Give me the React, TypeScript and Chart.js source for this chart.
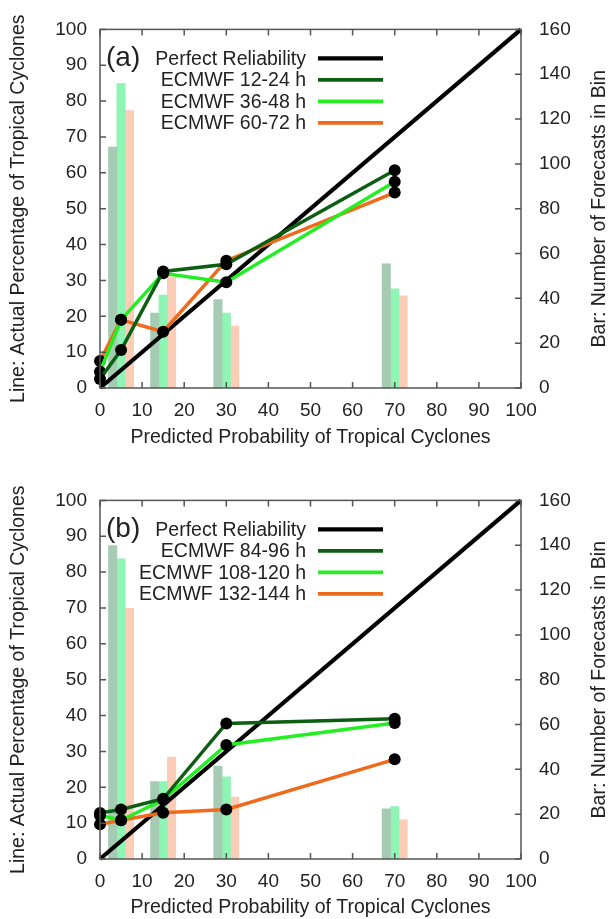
import React, { useEffect, useRef } from "react";
import { Chart, registerables } from "chart.js";

Chart.register(...registerables);

// ---------- data ----------
const probBins = [0, 5, 15, 30, 70];
const barBins = [5, 15, 30, 70];

const reliabilityLabel = "Perfect Reliability";
const reliabilityX = [0, 100];
const reliabilityY = [0, 100];

const panelATag = "(a)";
const panelALabels = ["ECMWF 12-24 h", "ECMWF 36-48 h", "ECMWF 60-72 h"];
const a12_24 = [2.5, 10.6, 32.5, 34.5, 60.7];
const a36_48 = [4.5, 19, 32, 29.5, 57.5];
const a60_72 = [7.5, 19, 15.7, 35.5, 54.5];
const aBars12_24 = [107.5, 33.4, 39.5, 55.4];
const aBars36_48 = [135.8, 41.5, 33.4, 44.3];
const aBars60_72 = [123.8, 49.6, 27.6, 41.1];

const panelBTag = "(b)";
const panelBLabels = ["ECMWF 84-96 h", "ECMWF 108-120 h", "ECMWF 132-144 h"];
const b84_96 = [12.8, 13.8, 16.8, 37.8, 39.1];
const b108_120 = [12.2, 10.8, 16.5, 31.8, 37.9];
const b132_144 = [9.7, 10.8, 12.9, 13.8, 27.8];
const bBars84_96 = [139.8, 34.5, 41.5, 22.4];
const bBars108_120 = [133.9, 34.5, 36.7, 23.4];
const bBars132_144 = [111.8, 45.5, 27.6, 17.5];

const xTitle = "Predicted Probability of Tropical Cyclones";
const yTitle = "Line: Actual Percentage of Tropical Cyclones";
const y1Title = "Bar: Number of Forecasts in Bin";

// ---------- styles ----------
const FONT = "'Liberation Sans', Arial, Helvetica, sans-serif";
const lineColors = ["#0b5e12", "#22ee22", "#f06a1c"];
const barColors = ["#a5ccb2", "#8ff5b5", "#fbcdb6"];
const textColor = "#222";

const decoPlugin = {
  id: "panelDeco",
  afterDraw(chart: any, _args: any, opts: any) {
    const { ctx, chartArea: a, scales } = chart;
    ctx.save();
    // frame
    ctx.strokeStyle = "#555";
    ctx.lineWidth = 1.5;
    ctx.strokeRect(a.left, a.top, a.right - a.left, a.bottom - a.top);
    // inner tick marks
    const tl = 6;
    ctx.beginPath();
    scales.x.ticks.forEach((t: any) => {
      const px = scales.x.getPixelForValue(t.value);
      ctx.moveTo(px, a.bottom);
      ctx.lineTo(px, a.bottom - tl);
      ctx.moveTo(px, a.top);
      ctx.lineTo(px, a.top + tl);
    });
    scales.y.ticks.forEach((t: any) => {
      const py = scales.y.getPixelForValue(t.value);
      ctx.moveTo(a.left, py);
      ctx.lineTo(a.left + tl, py);
    });
    scales.y1.ticks.forEach((t: any) => {
      const py = scales.y1.getPixelForValue(t.value);
      ctx.moveTo(a.right, py);
      ctx.lineTo(a.right - tl, py);
    });
    ctx.stroke();

    // panel tag
    ctx.fillStyle = textColor;
    ctx.textBaseline = "middle";
    ctx.textAlign = "left";
    ctx.font = `28px ${FONT}`;
    ctx.fillText(opts.tag, a.left + 6, a.top + 29);

    // legend
    ctx.font = `19.5px ${FONT}`;
    ctx.textAlign = "right";
    const rows = opts.legend as { label: string; color: string; width: number }[];
    rows.forEach((r, i) => {
      const y = a.top + 29 + i * 21.5;
      ctx.fillStyle = textColor;
      ctx.fillText(r.label, a.left + 206, y + 1);
      ctx.strokeStyle = r.color;
      ctx.lineWidth = r.width;
      ctx.beginPath();
      ctx.moveTo(a.left + 218, y);
      ctx.lineTo(a.left + 283, y);
      ctx.stroke();
    });

    // right axis title (reads bottom-to-top)
    ctx.save();
    ctx.translate(600, (a.top + a.bottom) / 2);
    ctx.rotate(-Math.PI / 2);
    ctx.textAlign = "center";
    ctx.textBaseline = "middle";
    ctx.fillStyle = textColor;
    ctx.font = `19.5px ${FONT}`;
    ctx.fillText(opts.rightTitle, 0, 0);
    ctx.restore();

    ctx.restore();
  },
};

function makeConfig(
  tag: string,
  labels: string[],
  lines: number[][],
  bars: number[][],
  padTop: number,
  xAxisH: number
): any {
  const datasets: any[] = [
    {
      type: "line",
      label: reliabilityLabel,
      data: reliabilityX.map((x, i) => ({ x, y: reliabilityY[i] })),
      borderColor: "#000",
      borderWidth: 4.2,
      pointRadius: 0,
      yAxisID: "y",
      xAxisID: "x",
      order: 2,
      clip: false,
    },
    ...lines.map((vals, i) => ({
      type: "line",
      label: labels[i],
      data: probBins.map((x, j) => ({ x, y: vals[j] })),
      borderColor: lineColors[i],
      borderWidth: 3.5,
      pointRadius: 6,
      pointBackgroundColor: "#000",
      pointBorderColor: "#000",
      pointBorderWidth: 0,
      yAxisID: "y",
      xAxisID: "x",
      order: 1,
      tension: 0,
      clip: false,
    })),
    ...bars.map((vals, i) => ({
      type: "bar",
      label: labels[i] + " bins",
      data: barBins.map((x, j) => ({ x, y: vals[j] })),
      backgroundColor: barColors[i],
      borderWidth: 0,
      barThickness: 8.4,
      yAxisID: "y1",
      xAxisID: "x",
      order: 5,
    })),
  ];

  const legend = [
    { label: reliabilityLabel, color: "#000", width: 4.2 },
    ...labels.map((l, i) => ({ label: l, color: lineColors[i], width: 3.8 })),
  ];

  const tickFont = { family: FONT, size: 19 };
  const titleFont = { family: FONT, size: 19.5 };

  return {
    type: "bar",
    data: { datasets },
    options: {
      responsive: false,
      animation: false,
      events: [],
      layout: { padding: { top: padTop, left: 0, right: 0, bottom: 0 } },
      plugins: {
        legend: { display: false },
        tooltip: { enabled: false },
        panelDeco: { tag, legend, rightTitle: y1Title },
      },
      scales: {
        x: {
          type: "linear",
          position: "bottom",
          min: 0,
          max: 100,
          offset: false,
          grid: { display: false, drawTicks: false },
          border: { display: false },
          ticks: { stepSize: 10, color: textColor, font: tickFont, padding: 11, maxRotation: 0, autoSkip: false },
          title: { display: true, text: xTitle, color: textColor, font: titleFont, padding: { top: 0, bottom: 0 } },
          afterFit: (s: any) => {
            s.height = xAxisH;
          },
        },
        y: {
          type: "linear",
          position: "left",
          min: 0,
          max: 100,
          grid: { display: false, drawTicks: false },
          border: { display: false },
          ticks: { stepSize: 10, color: textColor, font: tickFont, padding: 13 },
          title: { display: true, text: yTitle, color: textColor, font: titleFont, padding: { top: 7, bottom: 0 } },
          afterFit: (s: any) => {
            s.width = 100;
          },
        },
        y1: {
          type: "linear",
          position: "right",
          min: 0,
          max: 160,
          grid: { display: false, drawTicks: false },
          border: { display: false },
          ticks: { stepSize: 20, color: textColor, font: tickFont, padding: 18 },
          afterFit: (s: any) => {
            s.width = 88;
          },
        },
      },
    },
    plugins: [decoPlugin],
  };
}

function Panel(props: {
  top: number;
  height: number;
  tag: string;
  labels: string[];
  lines: number[][];
  bars: number[][];
  padTop: number;
  xAxisH: number;
}) {
  const ref = useRef<HTMLCanvasElement | null>(null);
  useEffect(() => {
    if (!ref.current) return;
    const chart = new Chart(
      ref.current,
      makeConfig(props.tag, props.labels, props.lines, props.bars, props.padTop, props.xAxisH)
    );
    return () => chart.destroy();
  }, []);
  return (
    <canvas
      ref={ref}
      width={609}
      height={props.height}
      style={{ position: "absolute", left: 0, top: props.top, width: 609, height: props.height }}
    />
  );
}

export default function App() {
  return (
    <div
      style={{
        position: "absolute",
        left: 0,
        top: 0,
        width: 609,
        height: 919,
        overflow: "hidden",
        background: "#fff",
      }}
    >
      <Panel
        top={0}
        height={449}
        tag={panelATag}
        labels={panelALabels}
        lines={[a12_24, a36_48, a60_72]}
        bars={[aBars12_24, aBars36_48, aBars60_72]}
        padTop={26}
        xAxisH={61}
      />
      <Panel
        top={471}
        height={448}
        tag={panelBTag}
        labels={panelBLabels}
        lines={[b84_96, b108_120, b132_144]}
        bars={[bBars84_96, bBars108_120, bBars132_144]}
        padTop={26}
        xAxisH={60}
      />
    </div>
  );
}
